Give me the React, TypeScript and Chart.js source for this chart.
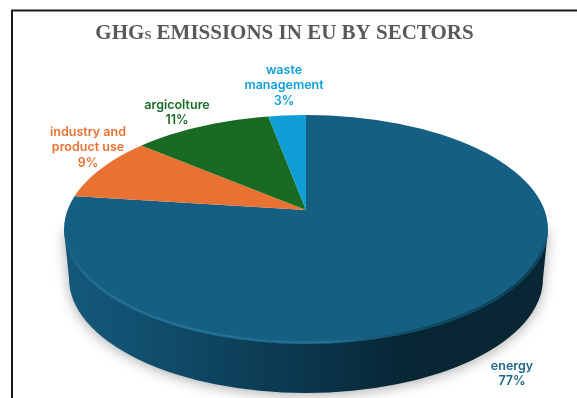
import React, { useEffect, useRef } from "react";
import { Chart, registerables } from "chart.js";

Chart.register(...registerables);

const sectors = ["energy", "industry and product use", "argicolture", "waste management"];
const shares = [77, 9, 11, 3];
const sliceColors = ["#156082", "#E97132", "#196B24", "#0F9ED5"];
const labelColors = ["#1B668A", "#E97132", "#196B24", "#0F9ED5"];
const labelLines = [["energy"], ["industry and", "product use"], ["argicolture"], ["waste", "management"]];
const labelAnchors = [
  { x: 512, y: 366 },
  { x: 88, y: 132 },
  { x: 177, y: 105 },
  { x: 284, y: 70 },
];
const titleParts = [
  { text: "GHG", size: 21 },
  { text: "S", size: 12.5 },
  { text: " EMISSIONS IN EU BY SECTORS", size: 21 },
];

const CX = 306;
const APEX_Y = 210;
const TOP_Y = 229.5;
const RX = 242;
const RY = 114.5;
const DEPTH = 49;
const OVERSCAN = 1.25;

// Tilted disc: a flat pie squashed about its apex and cut by the rim ellipse.
const tiltedPie = {
  id: "tiltedPie",
  beforeDatasetsDraw(chart: Chart) {
    const ctx = chart.ctx;
    ctx.save();
    ctx.strokeStyle = "#1a1a1a";
    ctx.lineWidth = 2;
    ctx.beginPath();
    ctx.moveTo(12, 398);
    ctx.lineTo(12, 10.5);
    ctx.lineTo(577, 10.5);
    ctx.stroke();

    // wall of the disc with its soft ground shadow
    const wall = ctx.createLinearGradient(CX - RX, 0, CX + RX, 0);
    wall.addColorStop(0, "#14597A");
    wall.addColorStop(0.12, "#125272");
    wall.addColorStop(0.3, "#0E4560");
    wall.addColorStop(0.55, "#0A3246");
    wall.addColorStop(0.72, "#072533");
    wall.addColorStop(1, "#082633");
    ctx.save();
    ctx.shadowColor = "rgba(0,0,0,0.32)";
    ctx.shadowBlur = 13;
    ctx.shadowOffsetY = 2;
    ctx.fillStyle = wall;
    ctx.beginPath();
    ctx.moveTo(CX - RX, TOP_Y);
    ctx.ellipse(CX, TOP_Y + DEPTH, RX - 5, RY, 0, Math.PI, 0, true);
    ctx.lineTo(CX + RX, TOP_Y);
    ctx.closePath();
    ctx.fill();
    ctx.restore();
    ctx.restore();
  },
  beforeDatasetDraw(chart: Chart, args: any) {
    const ctx = chart.ctx;
    const arcs = chart.getDatasetMeta(args.index).data as any[];
    const R = arcs[0].outerRadius;
    ctx.save();
    ctx.beginPath();
    ctx.ellipse(CX, TOP_Y, RX, RY, 0, 0, Math.PI * 2);
    ctx.clip();
    ctx.translate(CX, APEX_Y);
    ctx.scale((RX * OVERSCAN) / R, (RY * OVERSCAN) / R);
    ctx.translate(-arcs[0].x, -arcs[0].y);
    arcs.forEach((arc) => arc.draw(ctx));

    // bevel catching the light along the front rim, falling into shade on the right
    ctx.restore();
    const rim = ctx.createLinearGradient(CX - RX, 0, CX + RX, 0);
    rim.addColorStop(0, "rgba(50,130,170,0)");
    rim.addColorStop(0.04, "rgba(50,130,170,0.30)");
    rim.addColorStop(0.55, "rgba(50,130,170,0.30)");
    rim.addColorStop(0.72, "rgba(8,40,55,0.25)");
    rim.addColorStop(0.97, "rgba(8,40,55,0.45)");
    rim.addColorStop(1, "rgba(8,40,55,0)");
    ctx.save();
    ctx.beginPath();
    ctx.ellipse(CX, TOP_Y, RX, RY, 0, 0, Math.PI * 2);
    ctx.clip();
    ctx.strokeStyle = rim;
    [3, 1.5].forEach((lineWidth, k) => {
      ctx.lineWidth = lineWidth;
      ctx.beginPath();
      ctx.ellipse(CX, TOP_Y, RX - 1 - k, RY - 1 - k, 0, Math.PI * 0.97, Math.PI * 0.03, true);
      ctx.stroke();
    });
    ctx.restore();
    return false;
  },
  afterDraw(chart: Chart) {
    const ctx = chart.ctx;
    ctx.save();
    ctx.textAlign = "left";
    ctx.textBaseline = "alphabetic";
    ctx.fillStyle = "#595959";
    const font = (size: number) => `bold ${size}px "Liberation Serif"`;
    let width = 0;
    titleParts.forEach((p) => {
      ctx.font = font(p.size);
      width += ctx.measureText(p.text).width;
    });
    let x = 284.5 - width / 2;
    titleParts.forEach((p) => {
      ctx.font = font(p.size);
      ctx.fillText(p.text, x, 38.5);
      x += ctx.measureText(p.text).width;
    });

    ctx.textAlign = "center";
    ctx.textBaseline = "middle";
    ctx.font = '600 12.5px "Inter"';
    shares.forEach((share, i) => {
      ctx.fillStyle = labelColors[i];
      const lines = [...labelLines[i], `${share}%`];
      lines.forEach((line, k) => ctx.fillText(line, labelAnchors[i].x, labelAnchors[i].y + k * 15.5));
    });
    ctx.restore();
  },
};

export default function App() {
  const canvasRef = useRef<HTMLCanvasElement>(null);
  useEffect(() => {
    const chart = new Chart(canvasRef.current!, {
      type: "pie",
      data: {
        labels: sectors,
        datasets: [{ data: shares, backgroundColor: sliceColors, borderWidth: 0 }],
      },
      options: {
        responsive: false,
        animation: false,
        events: [],
        plugins: { legend: { display: false }, tooltip: { enabled: false }, title: { display: false } },
      },
      plugins: [tiltedPie],
    });
    return () => chart.destroy();
  }, []);
  return (
    <div style={{ position: "fixed", left: 0, top: 0, width: 577, height: 398, background: "#fff" }}>
      <canvas ref={canvasRef} width={577} height={398} style={{ display: "block" }} />
    </div>
  );
}
